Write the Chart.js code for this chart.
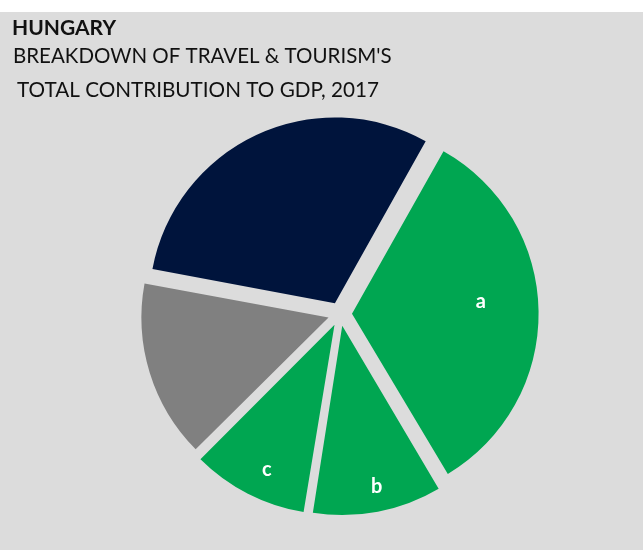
<!DOCTYPE html>
<html>
<head>
<meta charset="utf-8">
<script src="https://cdn.jsdelivr.net/npm/chart.js@4/dist/chart.umd.min.js"></script>
<style>
  html, body { margin: 0; padding: 0; background: #ffffff; }
  #wrap { width: 643px; height: 550px; }
</style>
</head>
<body>
<div id="wrap"><canvas id="chart" width="643" height="550"></canvas></div>
<script>
// Breakdown of travel & tourism's total contribution to GDP (share, %)
const categories = ['a', 'b', 'c', '', ''];
const shares = [33.3, 11.1, 10.0, 15.4, 30.2];
const sliceColors = ['#00a651', '#00a651', '#00a651', '#808080', '#00143c'];

const titleText = 'HUNGARY';
const subtitleLines = ["BREAKDOWN OF TRAVEL & TOURISM'S", 'TOTAL CONTRIBUTION TO GDP, 2017'];

const PANEL = '#dcdcdc';
const FONT = 'Lato, "Open Sans", sans-serif';

// where each slice letter sits: fraction across the slice's angle, fraction of the radius
const letterPlacement = [
  { along: 0.46, out: 0.70 },
  { along: 0.47, out: 0.89 },
  { along: 0.44, out: 0.866 }
];

const panelAndHeading = {
  id: 'panelAndHeading',
  beforeDraw(chart) {
    const ctx = chart.ctx;
    ctx.save();
    ctx.fillStyle = PANEL;
    ctx.fillRect(0, 12, chart.width, chart.height - 12);
    ctx.fillStyle = '#111111';
    ctx.textAlign = 'left';
    ctx.textBaseline = 'alphabetic';
    ctx.font = 'bold 21px ' + FONT;
    ctx.fillText(titleText, 12, 35);
    ctx.font = '20.5px ' + FONT;
    ctx.fillText(subtitleLines[0], 13, 63);
    ctx.font = '20.7px ' + FONT;
    ctx.fillText(subtitleLines[1], 17, 97);
    ctx.restore();
  }
};

const sliceLetters = {
  id: 'sliceLetters',
  afterDatasetsDraw(chart) {
    const ctx = chart.ctx;
    const arcs = chart.getDatasetMeta(0).data;
    ctx.save();
    ctx.fillStyle = '#ffffff';
    ctx.font = 'bold 20px ' + FONT;
    ctx.textAlign = 'center';
    ctx.textBaseline = 'middle';
    arcs.forEach((arc, i) => {
      const text = chart.data.labels[i];
      const place = letterPlacement[i];
      if (!text || !place) return;
      const p = arc.getProps(['x', 'y', 'startAngle', 'endAngle', 'outerRadius']);
      const shift = (arc.options.offset || 0) / 4;
      const mid = (p.startAngle + p.endAngle) / 2;
      const ang = p.startAngle + place.along * (p.endAngle - p.startAngle);
      const x = p.x + Math.cos(mid) * shift + Math.cos(ang) * p.outerRadius * place.out;
      const y = p.y + Math.sin(mid) * shift + Math.sin(ang) * p.outerRadius * place.out;
      ctx.fillText(text, x, y);
    });
    ctx.restore();
  }
};

new Chart(document.getElementById('chart'), {
  type: 'pie',
  data: {
    labels: categories,
    datasets: [{
      data: shares,
      backgroundColor: sliceColors,
      borderWidth: 0,
      hoverBorderWidth: 0,
      offset: 48,
      hoverOffset: 48
    }]
  },
  options: {
    responsive: false,
    animation: false,
    events: [],
    rotation: 29.3,
    layout: { padding: { left: 131, right: 94, top: 105, bottom: 27 } },
    plugins: {
      legend: { display: false },
      tooltip: { enabled: false },
      title: { display: false }
    }
  },
  plugins: [panelAndHeading, sliceLetters]
});
</script>
</body>
</html>
